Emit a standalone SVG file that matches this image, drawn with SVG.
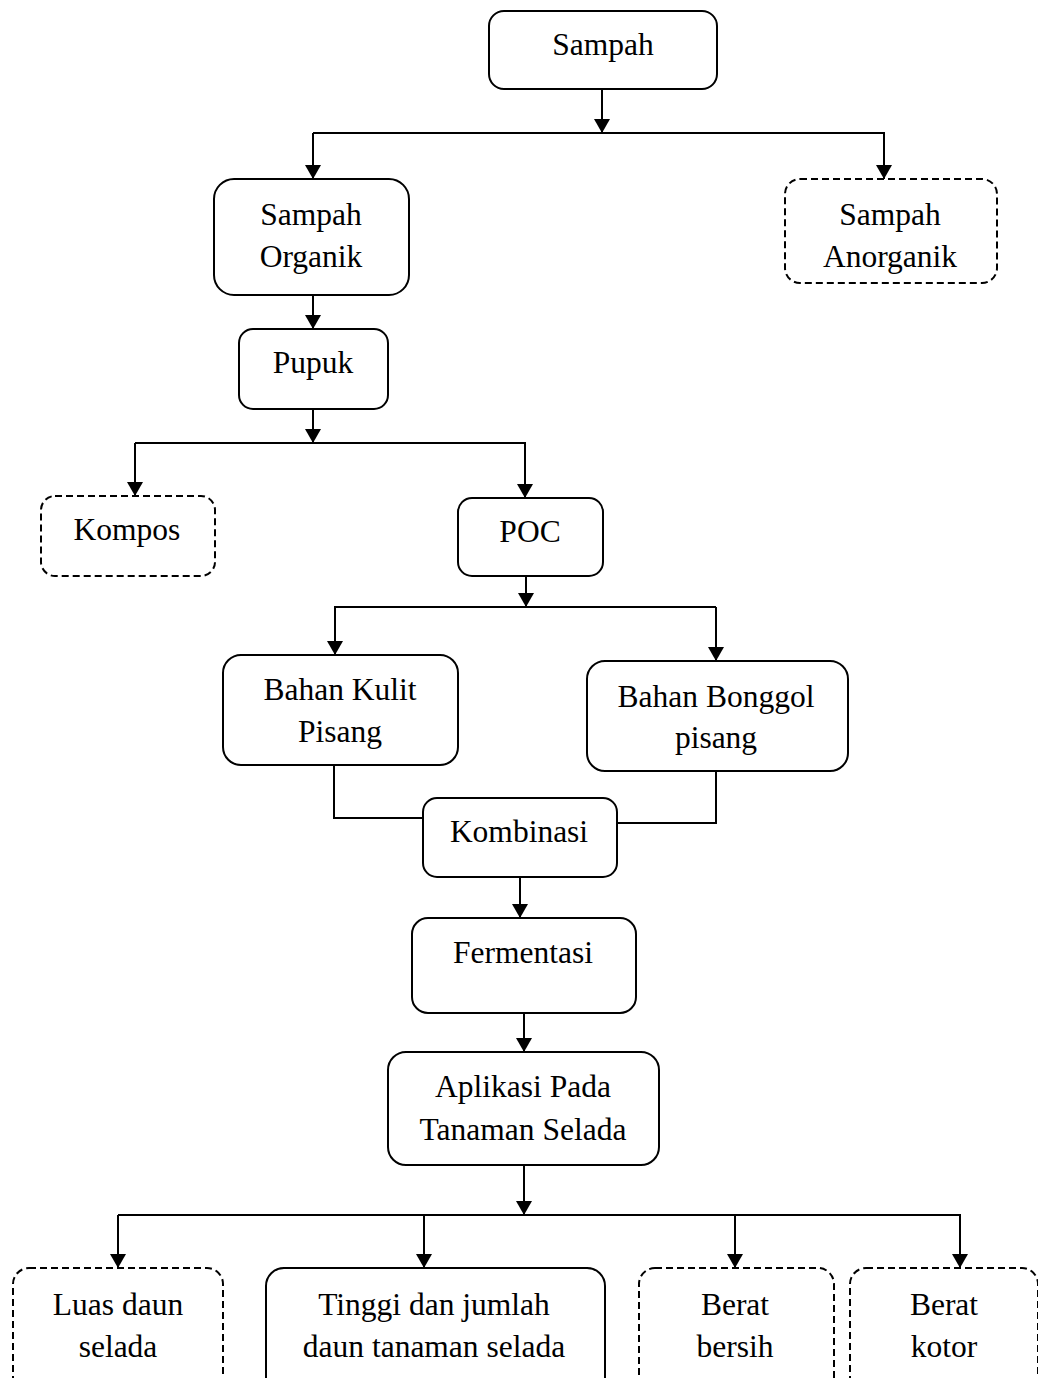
<svg xmlns="http://www.w3.org/2000/svg" width="1038" height="1378" viewBox="0 0 1038 1378">
<style>
.box{fill:#fff;stroke:#000;stroke-width:2}
.dash{fill:#fff;stroke:#000;stroke-width:2;stroke-dasharray:7 4}
.ln{fill:none;stroke:#000;stroke-width:2}
text{font-family:"Liberation Serif","Times New Roman",serif;font-size:31.5px;fill:#000;text-anchor:middle}
</style>
<defs>
<marker id="ah" viewBox="0 0 14 16" refX="14" refY="8" markerWidth="14" markerHeight="16" markerUnits="userSpaceOnUse" orient="auto">
<path d="M0,0 L14,8 L0,16 Z" fill="#000"/>
</marker>
</defs>
<rect width="1038" height="1378" fill="#fff"/>
<g id="connectors">
<line class="ln" x1="602" y1="89" x2="602" y2="133" marker-end="url(#ah)"/>
<line class="ln" x1="313" y1="133" x2="885" y2="133"/>
<line class="ln" x1="313" y1="133" x2="313" y2="179" marker-end="url(#ah)"/>
<line class="ln" x1="884" y1="133" x2="884" y2="179" marker-end="url(#ah)"/>
<line class="ln" x1="313" y1="295" x2="313" y2="329" marker-end="url(#ah)"/>
<line class="ln" x1="313" y1="409" x2="313" y2="443" marker-end="url(#ah)"/>
<line class="ln" x1="135" y1="443" x2="526" y2="443"/>
<line class="ln" x1="135" y1="443" x2="135" y2="496" marker-end="url(#ah)"/>
<line class="ln" x1="525" y1="443" x2="525" y2="498" marker-end="url(#ah)"/>
<line class="ln" x1="526" y1="576" x2="526" y2="607" marker-end="url(#ah)"/>
<line class="ln" x1="334" y1="607" x2="716" y2="607"/>
<line class="ln" x1="335" y1="607" x2="335" y2="655" marker-end="url(#ah)"/>
<line class="ln" x1="716" y1="607" x2="716" y2="661" marker-end="url(#ah)"/>
<polyline class="ln" points="334,765 334,818 422,818"/>
<polyline class="ln" points="716,771 716,823 617,823"/>
<line class="ln" x1="520" y1="877" x2="520" y2="918" marker-end="url(#ah)"/>
<line class="ln" x1="524" y1="1013" x2="524" y2="1052" marker-end="url(#ah)"/>
<line class="ln" x1="524" y1="1165" x2="524" y2="1215" marker-end="url(#ah)"/>
<line class="ln" x1="118" y1="1215" x2="961" y2="1215"/>
<line class="ln" x1="118" y1="1215" x2="118" y2="1268" marker-end="url(#ah)"/>
<line class="ln" x1="424" y1="1215" x2="424" y2="1268" marker-end="url(#ah)"/>
<line class="ln" x1="735" y1="1215" x2="735" y2="1268" marker-end="url(#ah)"/>
<line class="ln" x1="960" y1="1215" x2="960" y2="1268" marker-end="url(#ah)"/>
</g>
<g id="sampah"><rect class="box" x="489" y="11" width="228" height="78" rx="15"/><text x="603" y="55">Sampah</text></g>
<g id="sampah-organik"><rect class="box" x="214" y="179" width="195" height="116" rx="20"/><text x="311" y="225">Sampah</text><text x="311" y="267">Organik</text></g>
<g id="sampah-anorganik"><rect class="dash" x="785" y="179" width="212" height="104" rx="15"/><text x="890" y="225">Sampah</text><text x="890" y="267">Anorganik</text></g>
<g id="pupuk"><rect class="box" x="239" y="329" width="149" height="80" rx="14"/><text x="313" y="373">Pupuk</text></g>
<g id="kompos"><rect class="dash" x="41" y="496" width="174" height="80" rx="14"/><text x="127" y="540">Kompos</text></g>
<g id="poc"><rect class="box" x="458" y="498" width="145" height="78" rx="14"/><text x="530" y="542">POC</text></g>
<g id="bahan-kulit"><rect class="box" x="223" y="655" width="235" height="110" rx="18"/><text x="340" y="700">Bahan Kulit</text><text x="340" y="742">Pisang</text></g>
<g id="bahan-bonggol"><rect class="box" x="587" y="661" width="261" height="110" rx="18"/><text x="716" y="707">Bahan Bonggol</text><text x="716" y="748">pisang</text></g>
<g id="kombinasi"><rect class="box" x="423" y="798" width="194" height="79" rx="14"/><text x="519" y="842">Kombinasi</text></g>
<g id="fermentasi"><rect class="box" x="412" y="918" width="224" height="95" rx="16"/><text x="523" y="963">Fermentasi</text></g>
<g id="aplikasi"><rect class="box" x="388" y="1052" width="271" height="113" rx="18"/><text x="523" y="1097">Aplikasi Pada</text><text x="523" y="1140">Tanaman Selada</text></g>
<g id="luas-daun"><rect class="dash" x="13" y="1268" width="210" height="130" rx="16"/><text x="118" y="1315">Luas daun</text><text x="118" y="1357">selada</text></g>
<g id="tinggi"><rect class="box" x="266" y="1268" width="339" height="130" rx="18"/><text x="434" y="1315">Tinggi dan jumlah</text><text x="434" y="1357">daun tanaman selada</text></g>
<g id="berat-bersih"><rect class="dash" x="639" y="1268" width="195" height="130" rx="16"/><text x="735" y="1315">Berat</text><text x="735" y="1357">bersih</text></g>
<g id="berat-kotor"><rect class="dash" x="850" y="1268" width="188" height="130" rx="16"/><text x="944" y="1315">Berat</text><text x="944" y="1357">kotor</text></g>
</svg>
